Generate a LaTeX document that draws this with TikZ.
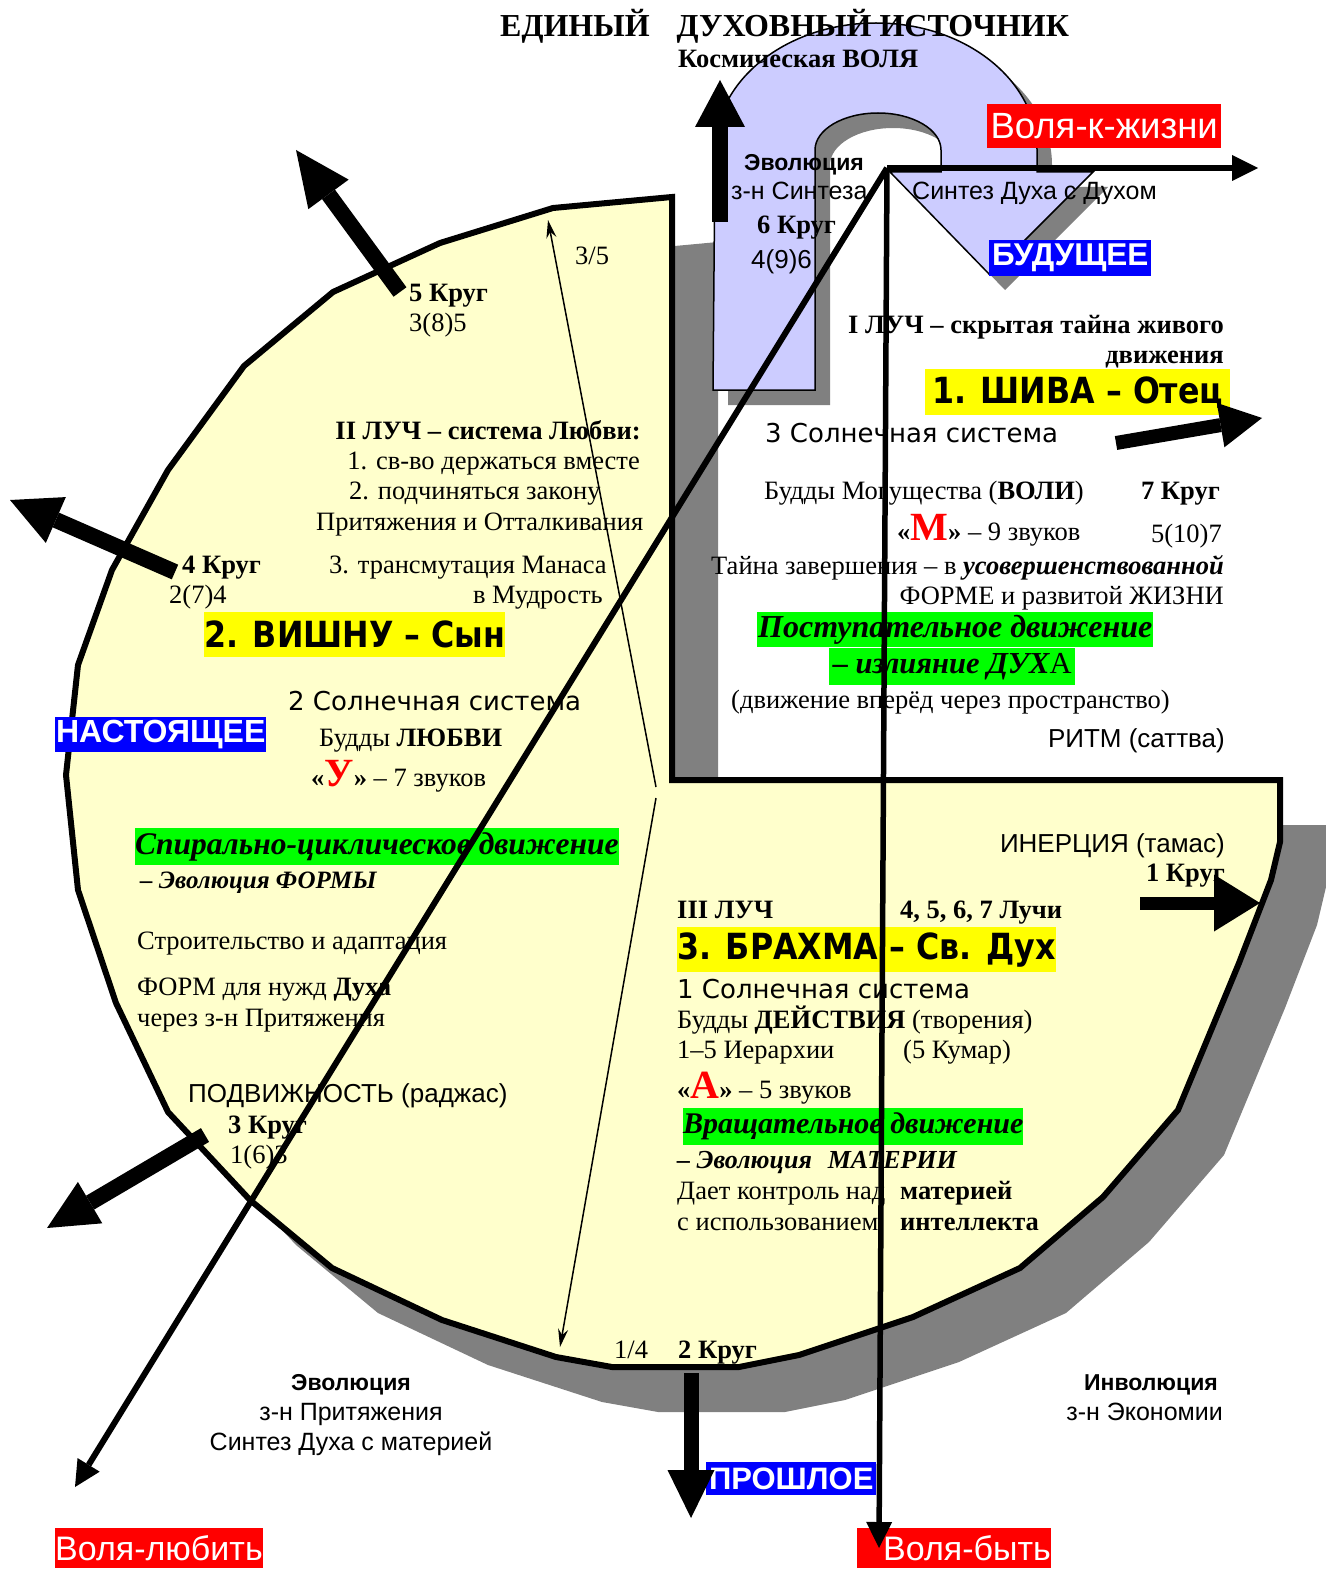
\documentclass[tikz,border=0pt]{standalone}
\usepackage{fontspec}
\setmainfont{Liberation Serif}
\newfontfamily\ari{Liberation Sans}
\newfontfamily\geo{DejaVu Sans}
\newfontfamily\geob[FakeStretch=0.88]{DejaVu Sans}
\usetikzlibrary{arrows.meta}
\definecolor{paleY}{HTML}{FFFFCC}
\definecolor{lav}{HTML}{CCCCFF}
\definecolor{shd}{HTML}{808080}
\definecolor{hly}{HTML}{FFFF00}
\definecolor{hlg}{HTML}{00FF00}
\definecolor{hlb}{HTML}{0000FF}
\definecolor{hlr}{HTML}{FF0000}
\newcommand{\fs}[1]{\fontsize{#1}{#1}\selectfont}
\def\mypiepath{(672,197) -- (553,208) -- (440,243) -- (333,292) -- (244,366) -- (168,470) -- (112,570) -- (78,665) -- (66,775) -- (78,890) -- (116,1003) -- (168,1112) -- (250,1200) -- (332,1268) -- (442,1320) -- (556,1357) -- (612,1367) -- (739,1367) -- (799,1355) -- (913,1317) -- (1020,1268) -- (1103,1197) -- (1178,1110) -- (1239,963) -- (1271,880) -- (1280,842) -- (1280,780) -- (672,780) -- cycle}
\def\myarchpath{(713,390) -- (715,150) arc[start angle=180, end angle=360, x radius=161, y radius=127] -- (1037,172) -- (1093,172) -- (990,275) -- (890,172) -- (941,172) -- (941,150) arc[start angle=0, end angle=-180, x radius=63, y radius=37] -- (815,390) -- cycle}
\begin{document}
\begin{tikzpicture}[x=1pt,y=-1pt,
  tx/.style={inner sep=0pt, font=\fs{26.5}},
  tb/.style={inner sep=0pt, font=\fs{26.5}\bfseries},
  tbi/.style={inner sep=0pt, font=\fs{26}\bfseries\itshape},
  ts/.style={inner sep=0pt, font=\ari\fs{26}},
  ta/.style={inner sep=0pt, font=\ari\fs{25}},
  tab/.style={inner sep=0pt, font=\ari\fs{23}\bfseries},
  tg/.style={inner sep=0pt, font=\geo\fs{26}},
  lbl/.style={inner sep=0pt, anchor=north west, text=white},
  hy/.style={inner sep=0pt, anchor=north west, fill=hly, font=\geob\fs{36}\bfseries},
  hg/.style={inner sep=0pt, anchor=north west, fill=hlg, font=\fs{30}\bfseries\itshape},
  blk/.style 2 args={line width=16pt, -{Triangle[length=#1, width=#2, line width=0pt]}},
  thinarr/.style={line width=1.5pt, -{Stealth[length=18pt, width=10pt]}},
  bigline/.style={line width=5.5pt, -{Triangle[length=26pt, width=26pt, line width=0pt]}}
]
\useasboundingbox (0,0) rectangle (1325,1570);
% shadows and shapes
\fill[shd, shift={(46,45)}] \mypiepath;
\draw[fill=paleY, line width=6pt, line join=miter] \mypiepath;
\fill[shd, shift={(15,15)}] \myarchpath;
\draw[fill=lav, line width=1.5pt] \myarchpath;

% top texts
\node[tb, anchor=base west, font=\fs{32}\bfseries] (title) at (500,37) {ЕДИНЫЙ\hspace*{27pt}ДУХОВНЫЙ ИСТОЧНИК};
\node[tb, anchor=base west] (kosm) at (678,68) {Космическая ВОЛЯ};
\node[tab, anchor=base west] (evo1) at (744,171) {Эволюция};
\node[ta, anchor=base west] (zsin) at (731,200) {з-н Синтеза};
\node[tb, anchor=base west] (k6) at (757,234) {6 Круг};
\node[ts, anchor=base west] (k6n) at (751,268) {4(9)6};
\node[ta, anchor=base west] (sdd) at (912,200) {Синтез Духа с Духом};
\node[lbl, fill=hlr, font=\ari\fs{36.5}, minimum width=234, minimum height=44] (vkz) at (987,104) {Воля-к-жизни};
\node[lbl, fill=hlb, font=\ari\fs{31.5}\bfseries, minimum width=162, minimum height=36] (fut) at (989,240) {БУДУЩЕЕ};
\node[tx, anchor=base west] (r35) at (575,264) {3/5};
\node[tb, anchor=base west] (k5) at (409,301) {5 Круг};
\node[tx, anchor=base west] (k5n) at (409,331) {3(8)5};

% right upper
\node[tb, anchor=base east] (luchA) at (1224,333) {I ЛУЧ – скрытая тайна живого};
\node[tb, anchor=base east] (luchB) at (1224,363) {движения};
\node[hy, minimum width=305, minimum height=46] (shiva) at (925,369) {1. ШИВА – Отец};
\node[tg, anchor=base west] (ssA) at (765,442) {3 Солнечная система};
\node[tx, anchor=base west] (bm) at (764,499) {Будды Могущества (\textbf{ВОЛИ})};
\node[tb, anchor=base east] (k7) at (1220,499) {7 Круг};
\node[tx, anchor=base west] (m9) at (897,540) {\textbf{«}{\fs{40}\bfseries\color{hlr}М}\textbf{»} – 9 звуков};
\node[tx, anchor=base east] (k7n) at (1222,542) {5(10)7};
\node[tx, anchor=base east] (tz) at (1224,574) {Тайна завершения – в \textbf{\itshape усовершенствованной}};
\node[tx, anchor=base east] (fr) at (1224,604) {ФОРМЕ и развитой ЖИЗНИ};
\node[hg, font=\fs{32}\bfseries\itshape, minimum width=396, minimum height=35] (post) at (757,612) {Поступательное движение};
\node[hg, font=\fs{30.5}\bfseries\itshape, minimum width=246, minimum height=37] (izl) at (829,648) {– излияние ДУХ{\normalfont А}};
\node[tx, anchor=base west] (dvp) at (731,708) {(движение вперёд через пространство)};
\node[ts, anchor=base east] (ritm) at (1225,747) {РИТМ (саттва)};

% left
\node[tb, anchor=base east] (lA) at (641,439) {II ЛУЧ – система Любви:};
\node[tx, anchor=base east] (lB) at (640,469) {1. св-во держаться вместе};
\node[tx, anchor=base west] (lC) at (349,499) {2. подчиняться закону};
\node[tx, anchor=base west] (lD) at (316,530) {Притяжения и Отталкивания};
\node[tb, anchor=base west] (k4) at (182,573) {4 Круг};
\node[tx, anchor=base west] (lE) at (329,573) {3. трансмутация Манаса};
\node[tx, anchor=base west] (k4n) at (169,603) {2(7)4};
\node[tx, anchor=base east] (lF) at (603,603) {в Мудрость};
\node[hy, minimum width=293, minimum height=45] (vish) at (204,612) {2. ВИШНУ – Сын};
\node[tg, anchor=base west] (ssB) at (288,710) {2 Солнечная система};
\node[lbl, fill=hlb, font=\ari\fs{32}\bfseries, minimum width=211, minimum height=35] (pres) at (55,717) {НАСТОЯЩЕЕ};
\node[tx, anchor=base west] (bl) at (319,746) {Будды \textbf{ЛЮБВИ}};
\node[tx, anchor=base west] (u7) at (311,786) {\textbf{«}{\fs{40}\bfseries\color{hlr}У}\textbf{»} – 7 звуков};
\node[hg, font=\fs{31.5}\bfseries\itshape, minimum width=480, minimum height=37] (spir) at (135,828) {Спирально-циклическое движение};
\node[tbi, anchor=base west, font=\fs{25}\bfseries\itshape] (evf) at (140,888) {– Эволюция ФОРМЫ};
\node[tx, anchor=base west] (str) at (137,949) {Строительство и адаптация};
\node[tx, anchor=base west] (fdn) at (137,995) {ФОРМ для нужд \textbf{Духа}};
\node[tx, anchor=base west] (czp) at (137,1026) {через з-н Притяжения};
\node[ts, anchor=base west] (podv) at (188,1102) {ПОДВИЖНОСТЬ (раджас)};
\node[tb, anchor=base west] (k3) at (228,1133) {3 Круг};
\node[tx, anchor=base west] (k3n) at (230,1163) {1(6)3};

% right lower
\node[ts, anchor=base east] (iner) at (1225,852) {ИНЕРЦИЯ (тамас)};
\node[tb, anchor=base east] (k1) at (1225,881) {1 Круг};
\node[tb, anchor=base west] (lG) at (677,918) {III ЛУЧ};
\node[tb, anchor=base west] (l47) at (900,918) {4, 5, 6, 7 Лучи};
\node[hy, minimum width=378, minimum height=45] (brah) at (677,927) {3. БРАХМА – Св. Дух};
\node[tg, anchor=base west] (ssC) at (677,998) {1 Солнечная система};
\node[tx, anchor=base west] (bd) at (677,1028) {Будды \textbf{ДЕЙСТВИЯ} (творения)};
\node[tx, anchor=base west] (ier) at (677,1058) {1–5 Иерархии};
\node[tx, anchor=base west] (kum) at (903,1058) {(5 Кумар)};
\node[tx, anchor=base west] (a5) at (677,1098) {\textbf{«}{\fs{40}\bfseries\color{hlr}А}\textbf{»} – 5 звуков};
\node[hg, minimum width=337, minimum height=37] (vrash) at (683,1108) {Вращательное движение};
\node[tbi, anchor=base west] (evm) at (677,1168) {– Эволюция\hspace*{16pt}МАТЕРИИ};
\node[tx, anchor=base west] (dk) at (677,1199) {Дает контроль над};
\node[tb, anchor=base west] (mat) at (900,1199) {материей};
\node[tx, anchor=base west] (sisp) at (677,1230) {с использованием};
\node[tb, anchor=base west] (intl) at (900,1230) {интеллекта};
\node[tx, anchor=base west] (r14) at (614,1358) {1/4};
\node[tb, anchor=base west] (k2) at (678,1358) {2 Круг};

% bottom
\node[tab, anchor=base] (evo2) at (351,1390) {Эволюция};
\node[ta, anchor=base] (zpr) at (351,1420) {з-н Притяжения};
\node[ta, anchor=base] (sdm) at (351,1450) {Синтез Духа с материей};
\node[tab, anchor=base east] (invo) at (1218,1390) {Инволюция};
\node[ta, anchor=base east] (zek) at (1223,1420) {з-н Экономии};
\node[lbl, fill=hlb, font=\ari\fs{31}\bfseries, minimum width=170, minimum height=33] (past) at (706,1462) {ПРОШЛОЕ};
\node[lbl, fill=hlr, font=\ari\fs{34}, minimum width=206, minimum height=40] (vl) at (55,1528) {Воля-любить};
\node[lbl, fill=hlr, font=\ari\fs{34}, minimum width=191, minimum height=40] (vb) at (857,1528) {\hspace*{26pt}Воля-быть};

% coordinates
\coordinate (P) at (887,168);
\coordinate (hT) at (1258,168);
\coordinate (vT) at (879,1548);
\coordinate (dT) at (75,1487);
\coordinate (tA) at (656,787);
\coordinate (tAe) at (548,220);
\coordinate (tB) at (656,798);
\coordinate (tBe) at (560,1347);
\coordinate (aUs) at (720,222);   \coordinate (aUe) at (720,80);
\coordinate (a5s) at (400,292);   \coordinate (a5e) at (296,150);
\coordinate (a4s) at (175,572);   \coordinate (a4e) at (10,500);
\coordinate (a3s) at (205,1135);  \coordinate (a3e) at (47,1228);
\coordinate (a2s) at (691,1373);  \coordinate (a2e) at (691,1518);
\coordinate (a1s) at (1140,903);  \coordinate (a1e) at (1260,903);
\coordinate (aSs) at (1116,443);  \coordinate (aSe) at (1262,418);

% lines
\draw[thinarr] (tA) -- (tAe);
\draw[thinarr] (tB) -- (tBe);
\draw[bigline, line width=6pt] (P) -- (hT);
\draw[bigline] (P) -- (vT);
\draw[bigline, line width=6pt] (P) -- (dT);

% block arrows
\draw[blk={47pt}{50pt}] (aUs) -- (aUe);
\draw[blk={55pt}{50pt}] (a5s) -- (a5e);
\draw[blk={50pt}{50pt}] (a4s) -- (a4e);
\draw[blk={50pt}{48pt}] (a3s) -- (a3e);
\draw[blk={48pt}{47pt}, line width=15pt] (a2s) -- (a2e);
\draw[blk={46pt}{57pt}, line width=13pt] (a1s) -- (a1e);
\draw[blk={42pt}{45pt}, line width=14pt] (aSs) -- (aSe);
\end{tikzpicture}
\end{document}
